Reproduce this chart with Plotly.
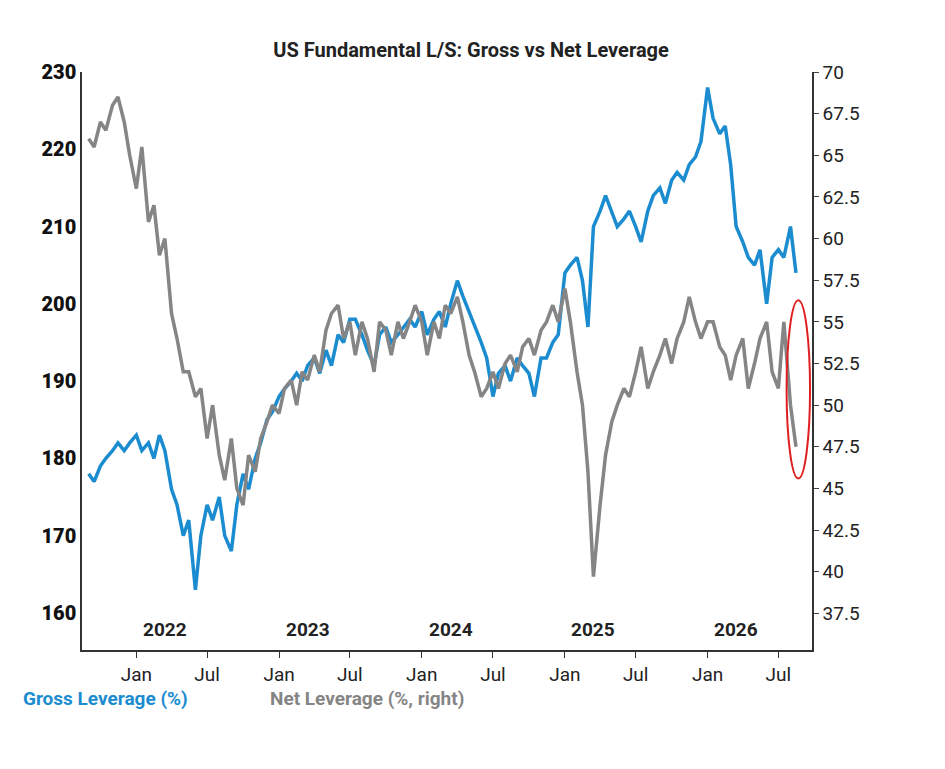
import plotly.graph_objects as go
import pandas as pd

gross = [178,
 177,179, 180,181, 182,181, 182,183,
 181,182, 180,183, 181,176, 174,170, 172,163, 170,174, 172,175, 170,168, 174,178, 176,180, 182,185, 186,188,
 189,190, 191,190, 192,193, 191,194, 192,196, 195,198, 198,196, 194,192, 196,197, 195,196, 197,198, 197,199,
 196,198, 199,197, 200,203, 201,199, 197,195, 193,188, 191,192, 190,193, 192,191, 188,193, 193,195, 196,204,
 205,206, 203,197, 210,212, 214,212, 210,211, 212,210, 208,212, 214,215, 213,216, 217,216, 218,219, 221,228,
 224,222, 223,218, 210,208, 206,205, 207,200, 206,207, 206,210, 204]

net = [66,
 65.5,67, 66.5,68, 68.5,67, 65,63,
 65.5,61, 62,59, 60,55.5, 54,52, 52,50.5, 51,48, 50,47, 45.5,48, 45,44, 47,46, 48,49, 50,49.5,
 51,51.5, 50,52, 51.5,53, 52,54.5, 55.5,56, 54,55, 53,55, 54,52, 55,54.5, 53,55, 54,55, 56,55,
 53,55, 54,56, 55.5,56.5, 55,53, 52,50.5, 51,52, 51,52.5, 53,52, 53.5,54, 53,54.5, 55,56, 55,57,
 55,52, 50,46, 39.7,44, 47,49, 50,51, 50.5,52, 53.5,51, 52,53, 54,52.5, 54,55, 56.5,55, 54,55,
 55,53.5, 53,51.5, 53,54, 51,52.5, 54,55, 52,51, 55,50, 47.5]

month_ticks = ["2022-01-01","2022-07-01","2023-01-01","2023-07-01","2024-01-01","2024-07-01",
               "2025-01-01","2025-07-01","2026-01-01","2026-07-01"]
month_text = ["Jan","Jul"]*5
years = ["2022","2023","2024","2025","2026"]
year_pos = ["2022-03-15","2023-03-15","2024-03-15","2025-03-15","2026-03-15"]

BLUE = "#1b8ccf"
GRAY = "#858585"

d_gross = pd.date_range("2021-08-20", periods=len(gross), freq="SMS")
d_net = pd.date_range("2021-08-20", periods=len(net), freq="SMS")

fig = go.Figure()
fig.add_trace(go.Scatter(x=d_net, y=net, yaxis="y2", mode="lines",
                         line=dict(color=GRAY, width=3.5), name="Net"))
fig.add_trace(go.Scatter(x=d_gross, y=gross, mode="lines",
                         line=dict(color=BLUE, width=3.5), name="Gross"))

for y, p in zip(years, year_pos):
    fig.add_annotation(x=p, y=157.8, xref="x", yref="y", text="<b>"+y+"</b>",
                       showarrow=False, font=dict(size=19, color="#222"))

fig.add_shape(type="circle", xref="x", yref="y2", x0="2026-07-22", x1="2026-09-20",
              y0=45.6, y1=56.3, line=dict(color="#e02020", width=2))

fig.add_annotation(xref="paper", yref="paper", x=-0.083, y=-0.108, xanchor="left",
                   text="<b>Gross Leverage (%)</b>", showarrow=False,
                   font=dict(size=19, color=BLUE))
fig.add_annotation(xref="paper", yref="paper", x=0.255, y=-0.108, xanchor="left",
                   text="<b>Net Leverage (%, right)</b>", showarrow=False,
                   font=dict(size=19, color=GRAY))

fig.update_layout(
    width=945, height=769, plot_bgcolor="white", paper_bgcolor="white",
    margin=dict(l=74, r=141, t=64, b=127),
    showlegend=False,
    font=dict(family="Roboto", color="#222"),
    title=dict(text="<b>US Fundamental L/S: Gross vs Net Leverage</b>", x=0.49, y=0.955,
               xanchor="center", font=dict(size=20, color="#222")),
    xaxis=dict(type="date", range=["2021-08-15", "2026-09-25"], tickvals=month_ticks,
               ticktext=month_text, showgrid=False, showline=True, linecolor="#333",
               linewidth=1.5, ticks="outside", ticklen=6, tickcolor="#333",
               tickfont=dict(size=19, color="#222"), mirror=False),
    yaxis=dict(range=[155.2, 230], tickvals=list(range(160, 231, 10)), showgrid=False,
               showline=True, linecolor="#333", linewidth=1.5, ticks="",
               tickfont=dict(size=20, color="#111", family="Roboto Black, Roboto"), zeroline=False),
    yaxis2=dict(range=[35.3, 70], overlaying="y", side="right",
                tickvals=[37.5,40,42.5,45,47.5,50,52.5,55,57.5,60,62.5,65,67.5,70],
                ticktext=["37.5","40","42.5","45","47.5","50","52.5","55","57.5","60","62.5","65","67.5","70"],
                showgrid=False, showline=True, linecolor="#333", linewidth=1.5,
                ticks="outside", ticklen=5, tickfont=dict(size=19, color="#222"), zeroline=False),
)

fig.write_html("out.html")
